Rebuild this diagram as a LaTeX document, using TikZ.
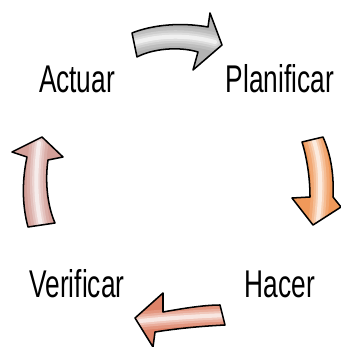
\documentclass[tikz,border=0pt]{standalone}
\usepackage{fontspec}
\setmainfont{Liberation Sans}[FakeStretch=0.68]
\usepackage{tikz}
\usetikzlibrary{positioning}
\usepackage{xcolor}
\definecolor{pdcagray}{HTML}{B3B3B3}
\definecolor{pdcaorange}{HTML}{F0995A}
\definecolor{pdcasalmon}{HTML}{DE8368}
\definecolor{pdcapink}{HTML}{D4A099}

% curved block arrow: #1 colour, #2 outline, #3 centre line
\newcommand{\pdcaflecha}[3]{%
  \begin{scope}
    \clip #2;
    \fill[#1] #2;
    \foreach \w/\t in {16/15, 11/35, 7/55, 3.5/80}
      \draw[line width=\w pt, #1!\the\numexpr100-\t\relax!white, line cap=round] #3;
  \end{scope}
  \draw[blockline] #2;
}

\begin{document}
\begin{tikzpicture}[
    x=0.03cm, y=-0.03cm,
    step label/.style={anchor=base, inner sep=0pt,
                       font=\fontsize{33}{33}\selectfont},
    blockline/.style={draw=black, line width=1.3pt, line join=round},
  ]
  \useasboundingbox (0,0) rectangle (340,347);

  % labels
  \node[step label] (actuar)     at (77,93)   {Actuar};
  \node[step label] (planificar) at (280,93)  {Planificar};
  \node[step label] (hacer)      at (280,297) {Hacer};
  \node[step label] (verificar)  at (77,297)  {Verificar};

  % actuar -> planificar
  \pdcaflecha{pdcagray}
    {(132,33) .. controls (152,25) and (180,22) .. (208,27) -- (210,13) -- (222,45)
     -- (193,70) -- (198,52) .. controls (178,46) and (152,49) .. (137,57) -- cycle}
    {(128,45) .. controls (155,35) and (185,34) .. (215,42)};

  % planificar -> hacer
  \pdcaflecha{pdcaorange}
    {(302,142) -- (323,137) .. controls (331,155) and (334,175) .. (333,197)
     -- (341,207) -- (313,225) -- (292,198) -- (310,197)
     .. controls (310,178) and (307,158) .. (302,142) -- cycle}
    {(312,135) .. controls (321,160) and (322,185) .. (318,220)};

  % hacer -> verificar
  \pdcaflecha{pdcasalmon}
    {(220,305) .. controls (205,305) and (185,308) .. (163,312) -- (163,293)
     -- (135,318) -- (153,347) -- (155,332)
     .. controls (180,328) and (205,326) .. (225,325) -- cycle}
    {(228,315) .. controls (200,316) and (170,318) .. (140,321)};

  % verificar -> actuar
  \pdcaflecha{pdcapink}
    {(28,227) .. controls (22,205) and (22,180) .. (27,157) -- (12,152) -- (42,137)
     -- (63,157) -- (48,160) .. controls (45,180) and (47,205) .. (55,223) -- cycle}
    {(42,230) .. controls (35,200) and (35,175) .. (39,143)};
\end{tikzpicture}
\end{document}
